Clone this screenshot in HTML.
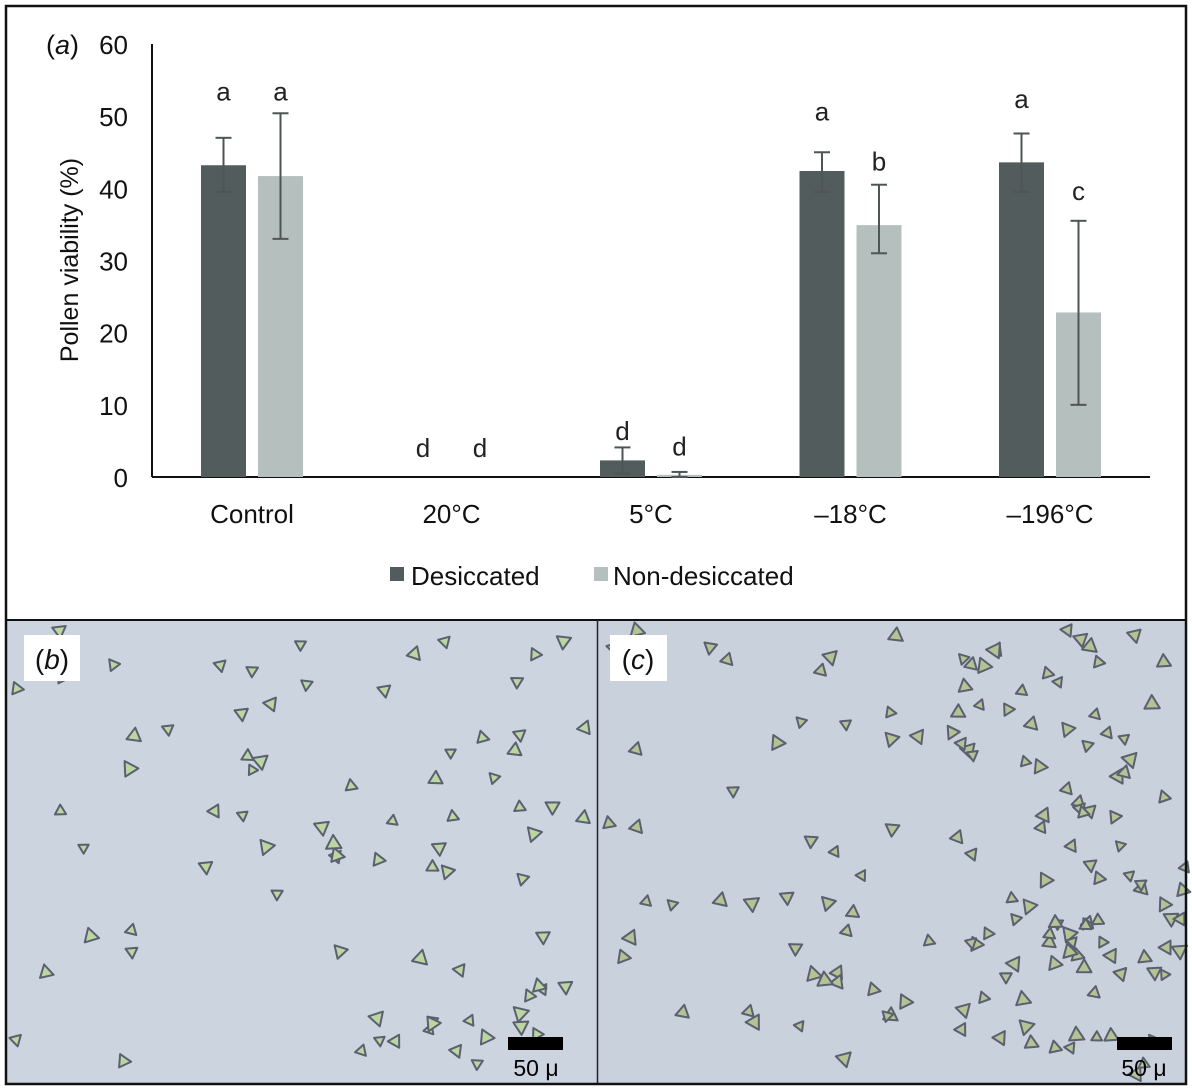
<!DOCTYPE html>
<html><head><meta charset="utf-8"><style>
body{margin:0;background:#fff;font-family:"Liberation Sans",sans-serif}
svg{display:block}
</style></head><body>
<svg id="fig" width="1192" height="1089" viewBox="0 0 1192 1089">
<rect x="0" y="0" width="1192" height="1089" fill="#fff"/>
<g id="photoB">
 <rect x="6" y="620" width="591" height="464" fill="#ccd4df"/>
</g>
<g id="photoC">
 <rect x="597" y="620" width="589" height="464" fill="#c9d1dc"/>
</g>
<g id="chart"></g>
<line x1="6" y1="620" x2="1186" y2="620" stroke="#111" stroke-width="2"/>
<line x1="597.5" y1="620" x2="597.5" y2="1084" stroke="#222" stroke-width="1.5"/>
<rect x="6" y="6" width="1180" height="1078" fill="none" stroke="#111" stroke-width="2.5"/>
<g><rect x="24" y="635" width="56" height="46" fill="#fff"/><text x="52" y="669" font-size="28" text-anchor="middle" fill="#111">(<tspan font-style="italic">b</tspan>)</text></g>
<g><rect x="610" y="635" width="57" height="46" fill="#fff"/><text x="638" y="669" font-size="28" text-anchor="middle" fill="#111">(<tspan font-style="italic">c</tspan>)</text></g>
<g><rect x="508" y="1037" width="55" height="13" fill="#000"/><text x="536" y="1076" font-size="23" text-anchor="middle" fill="#000">50 μ</text></g>
<g><rect x="1117" y="1037" width="55" height="13" fill="#000"/><text x="1144" y="1076" font-size="23" text-anchor="middle" fill="#000">50 μ</text></g>
</svg>
<script>
const categories=["Control","20°C","5°C","\u201318°C","\u2013196°C"];
const desiccated=[43.2,0,2.3,42.4,43.6];
const desiccatedErrHi=[47.0,0,4.1,45.0,47.6];
const desiccatedErrLo=[39.5,0,0.5,39.5,39.5];
const nonDesiccated=[41.7,0,0.3,34.9,22.8];
const nonDesErrHi=[50.4,0,0.7,40.5,35.5];
const nonDesErrLo=[33.0,0,0,31.0,10.0];
const letterD=["a","d","d","a","a"];
const letterN=["a","d","d","b","c"];
const letterLevelD=[52.2,2.8,5.1,49.4,51.1];
const letterLevelN=[52.2,2.8,3.0,42.5,38.4];
const yTicks=[0,10,20,30,40,50,60];

const NS="http://www.w3.org/2000/svg";
const chart=document.getElementById("chart");
function mk(tag,attrs,parent){const e=document.createElementNS(NS,tag);for(const k in attrs)e.setAttribute(k,attrs[k]);(parent||chart).appendChild(e);return e;}
const y0=477,yTop=44,yMax=60;
function y(v){return y0-(v/yMax)*(y0-yTop);}
function xc(i){return 252+i*199.5;}
const bw=45,gap=12;
let ax=mk("line",{x1:152,y1:yTop,x2:152,y2:y0,stroke:"#111","stroke-width":2});


let xa=mk("line",{x1:152,y1:y0,x2:1150,y2:y0,stroke:"#111","stroke-width":2});


yTicks.forEach(t=>{const e=mk("text",{x:128,y:y(t)+10,"font-size":26,"text-anchor":"end",fill:"#111"});e.textContent=t;

});
let yt=mk("text",{transform:"translate(78,260) rotate(-90)","font-size":25,"text-anchor":"middle",fill:"#111"});yt.textContent="Pollen viability (%)";


let pa=mk("text",{x:46,y:54,"font-size":27,fill:"#111"});pa.innerHTML='(<tspan font-style="italic">a</tspan>)';


function err(xm,hi,lo){const g=mk("g",{stroke:"#4d5555","stroke-width":2});
mk("line",{x1:xm,y1:y(hi),x2:xm,y2:y(lo)},g);mk("line",{x1:xm-8,y1:y(hi),x2:xm+8,y2:y(hi)},g);mk("line",{x1:xm-8,y1:y(lo),x2:xm+8,y2:y(lo)},g);

}
categories.forEach((c,i)=>{
 const xd=xc(i)-gap/2-bw, xn=xc(i)+gap/2;
 const b1=mk("rect",{x:xd,y:y(desiccated[i]),width:bw,height:y0-y(desiccated[i]),fill:"#535c5c"});
 
 
 const b2=mk("rect",{x:xn,y:y(nonDesiccated[i]),width:bw,height:y0-y(nonDesiccated[i]),fill:"#b5c0be"});
 
 
 if(desiccatedErrHi[i]>0)err(xd+bw/2,desiccatedErrHi[i],desiccatedErrLo[i]);
 if(nonDesErrHi[i]>0)err(xn+bw/2,nonDesErrHi[i],nonDesErrLo[i]);
 const l1=mk("text",{x:xd+bw/2,y:y(letterLevelD[i]),"font-size":26,"text-anchor":"middle",fill:"#222"});l1.textContent=letterD[i];
 
 
 const l2=mk("text",{x:xn+bw/2,y:y(letterLevelN[i]),"font-size":26,"text-anchor":"middle",fill:"#222"});l2.textContent=letterN[i];
 
 
 const xl=mk("text",{x:xc(i),y:523,"font-size":26,"text-anchor":"middle",fill:"#111"});xl.textContent=c;
 
 
});
const lg=mk("g",{});


mk("rect",{x:390,y:567,width:14,height:14,fill:"#535c5c"},lg);
let t1=mk("text",{x:411,y:585,"font-size":26,fill:"#111"},lg);t1.textContent="Desiccated";
mk("rect",{x:594,y:567,width:14,height:14,fill:"#b5c0be"},lg);
let t2=mk("text",{x:613,y:585,"font-size":26,fill:"#111"},lg);t2.textContent="Non-desiccated";

let s=7;function rnd(){s=(s*16807)%2147483647;return s/2147483647;}
function grains(id,x0,x1,n,dense){const g=document.getElementById(id);
 for(let k=0;k<n;k++){let cx=x0+10+rnd()*(x1-x0-20),cy=630+rnd()*445;
  if(dense&&rnd()<0.5){cx=x0+(x1-x0)*(0.6+rnd()*0.4);cy=640+rnd()*420;}
  const r=6+rnd()*3,a=rnd()*6.28;let p=[];for(let j=0;j<3;j++){const aa=a+j*2.094;p.push((cx+r*Math.cos(aa)).toFixed(1)+","+(cy+r*Math.sin(aa)).toFixed(1));}
  mk("polygon",{points:p.join(" "),fill:dense?"#b3c394":"#bcd6a2",stroke:"#5a6070","stroke-width":2,"stroke-linejoin":"round"},g);}
}
grains("photoB",6,597,80,false);
grains("photoC",597,1186,150,true);
</script>
</body></html>
